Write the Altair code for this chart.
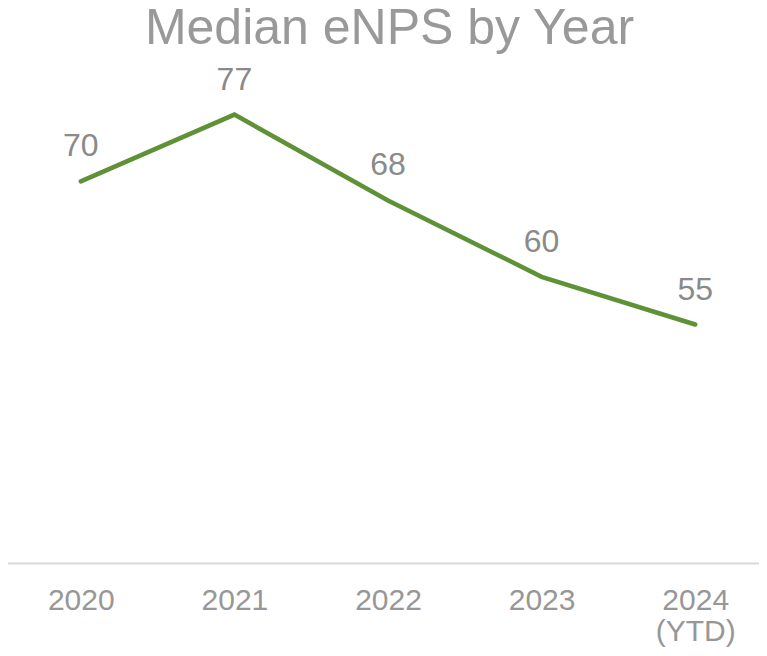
import altair as alt
import pandas as pd

years = ["2020", "2021", "2022", "2023", "2024|(YTD)"]
values = [70, 77, 68, 60, 55]

df = pd.DataFrame({"year": years, "enps": values})

FONT = "Liberation Sans"

x = alt.X(
    "year:N",
    sort=None,
    scale=alt.Scale(type="point", padding=0.5, range=[-4, 764]),
    axis=alt.Axis(
        title=None,
        labelAngle=0,
        labelFontSize=30,
        labelColor="#979797",
        labelFont=FONT,
        ticks=False,
        domainColor="#d9d9d9",
        domainWidth=2,
        labelPadding=22,
        labelExpr="split(datum.label, '|')",
        labelLineHeight=31,
        grid=False,
    ),
)
y = alt.Y("enps:Q", scale=alt.Scale(domain=[30, 80], nice=False, zero=False), axis=None)

base = alt.Chart(df)

line = base.mark_line(color="#5f9137", strokeWidth=4.5, strokeCap="round", strokeJoin="miter").encode(x=x, y=y)
labels = base.mark_text(
    dy=-25, fontSize=32, font=FONT, color="#8a8a8a", baseline="alphabetic", align="center"
).encode(x=x, y=y, text="enps:Q")

chart = (
    alt.layer(line, labels)
    .properties(
        width=751,
        height=477,
        autosize=alt.AutoSizeParams(type="none"),
        padding={"top": 78, "left": 0, "right": 0, "bottom": 90},
        title=alt.TitleParams(
            "Median eNPS by Year",
            fontSize=50,
            color="#999999",
            font=FONT,
            fontWeight="normal",
            anchor="middle",
            offset=10,
            dx=6,
        ),
    )
    .configure_view(stroke=None)
)

chart.save("out.html", embed_options={"renderer": "svg", "actions": False})
